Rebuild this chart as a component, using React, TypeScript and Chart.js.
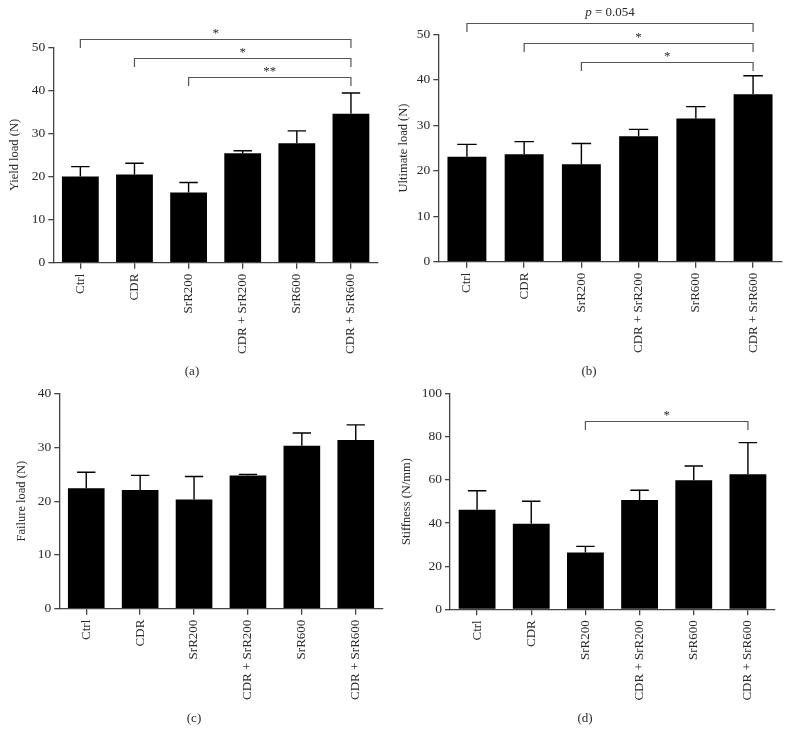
import React, { useEffect, useRef } from "react";
import { Chart, registerables } from "chart.js";

Chart.register(...registerables);

// ---------- data ----------
const categories = ["Ctrl", "CDR", "SrR200", "CDR + SrR200", "SrR600", "CDR + SrR600"];

const yieldLoadMeans = [20.0, 20.5, 16.3, 25.4, 27.7, 34.6];
const yieldLoadErrors = [2.3, 2.6, 2.3, 0.6, 2.9, 4.8];

const ultimateLoadMeans = [23.1, 23.6, 21.4, 27.6, 31.5, 36.8];
const ultimateLoadErrors = [2.7, 2.8, 4.6, 1.5, 2.6, 4.1];

const failureLoadMeans = [22.4, 22.1, 20.3, 24.8, 30.3, 31.4];
const failureLoadErrors = [3.0, 2.7, 4.3, 0.2, 2.4, 2.8];

const stiffnessMeans = [46.2, 39.7, 26.3, 50.7, 59.8, 62.6];
const stiffnessErrors = [8.8, 10.4, 2.9, 4.5, 6.7, 14.7];

const yieldLoadBrackets = [
  { from: 0, to: 5, level: 52.0, label: "*" },
  { from: 1, to: 5, level: 47.5, label: "*" },
  { from: 2, to: 5, level: 43.2, label: "**" },
];
const ultimateLoadBrackets = [
  { from: 0, to: 5, level: 52.5, label: "p = 0.054" },
  { from: 1, to: 5, level: 48.1, label: "*" },
  { from: 2, to: 5, level: 43.8, label: "*" },
];
const failureLoadBrackets: { from: number; to: number; level: number; label: string }[] = [];
const stiffnessBrackets = [{ from: 2, to: 5, level: 87.5, label: "*" }];

// ---------- styling ----------
const FONT = "'Liberation Serif', 'DejaVu Serif', serif";
const TEXT = "#2a2a2a";
const AXIS = "#444444";

const errorBarPlugin = {
  id: "errorBars",
  afterDatasetsDraw(chart: any, _args: any, opts: any) {
    const errs: number[] = opts.errors || [];
    const meta = chart.getDatasetMeta(0);
    const ys = chart.scales.y;
    const ctx = chart.ctx;
    ctx.save();
    ctx.strokeStyle = "#000";
    ctx.lineWidth = 1.4;
    meta.data.forEach((bar: any, i: number) => {
      const v = chart.data.datasets[0].data[i] as number;
      const top = ys.getPixelForValue(v + errs[i]);
      const half = bar.width / 4;
      ctx.beginPath();
      ctx.moveTo(bar.x, bar.y);
      ctx.lineTo(bar.x, top);
      ctx.moveTo(bar.x - half, top);
      ctx.lineTo(bar.x + half, top);
      ctx.stroke();
    });
    ctx.restore();
  },
};

const bracketPlugin = {
  id: "brackets",
  afterDraw(chart: any, _args: any, opts: any) {
    const list = opts.items || [];
    const xs = chart.scales.x;
    const ys = chart.scales.y;
    const ctx = chart.ctx;
    const drop = 8.5;
    ctx.save();
    list.forEach((b: any) => {
      const x1 = xs.getPixelForValue(b.from);
      const x2 = xs.getPixelForValue(b.to);
      const y = Math.round(ys.getPixelForValue(b.level)) + 0.5;
      ctx.strokeStyle = "#555";
      ctx.lineWidth = 1.2;
      ctx.beginPath();
      ctx.moveTo(x1, y + drop);
      ctx.lineTo(x1, y);
      ctx.lineTo(x2, y);
      ctx.lineTo(x2, y + drop);
      ctx.stroke();
      const cx = (x1 + x2) / 2;
      ctx.fillStyle = TEXT;
      ctx.textBaseline = "alphabetic";
      if (b.label.startsWith("p")) {
        const rest = b.label.slice(1);
        ctx.font = `italic 13px ${FONT}`;
        const w1 = ctx.measureText("p").width;
        ctx.font = `13px ${FONT}`;
        const w2 = ctx.measureText(rest).width;
        const start = cx - (w1 + w2) / 2;
        ctx.textAlign = "left";
        ctx.font = `italic 13px ${FONT}`;
        ctx.fillText("p", start, y - 7.5);
        ctx.font = `13px ${FONT}`;
        ctx.fillText(rest, start + w1, y - 7.5);
      } else {
        ctx.font = `13px ${FONT}`;
        ctx.textAlign = "center";
        ctx.fillText(b.label, cx, y - 3);
      }
    });
    ctx.restore();
  },
};

type PanelProps = {
  means: number[];
  errors: number[];
  brackets: { from: number; to: number; level: number; label: string }[];
  yTitle: string;
  yMax: number;
  yStep: number;
  left: number;
  top: number;
  padLeft: number;
  yWidth: number;
  areaRight: number;
  areaTop: number;
  areaBottom: number;
  caption: string;
  capX: number;
  capY: number;
};

const W = 395;
const H = 372;

function Panel(p: PanelProps) {
  const ref = useRef<HTMLCanvasElement | null>(null);
  useEffect(() => {
    if (!ref.current) return;
    const xHeight = 100;
    const chart = new Chart(ref.current, {
      type: "bar",
      data: {
        labels: categories,
        datasets: [
          {
            data: p.means,
            backgroundColor: "#000",
            borderWidth: 0,
            barPercentage: 0.68,
            categoryPercentage: 1,
          },
        ],
      },
      plugins: [errorBarPlugin, bracketPlugin],
      options: {
        responsive: false,
        animation: false,
        layout: {
          padding: {
            left: p.padLeft,
            right: W - p.areaRight,
            top: p.areaTop,
            bottom: H - p.areaBottom - xHeight,
          },
        },
        plugins: {
          legend: { display: false },
          tooltip: { enabled: false },
          errorBars: { errors: p.errors },
          brackets: { items: p.brackets },
        } as any,
        scales: {
          x: {
            afterFit: (s: any) => {
              s.height = xHeight;
            },
            grid: {
              offset: false,
              drawOnChartArea: false,
              drawTicks: true,
              tickLength: 6,
              color: AXIS,
              lineWidth: 1.3,
            },
            border: { display: true, color: AXIS, width: 1.3 },
            ticks: {
              autoSkip: false,
              minRotation: 90,
              maxRotation: 90,
              padding: 5,
              color: TEXT,
              font: { family: FONT, size: 13 },
            },
          },
          y: {
            min: 0,
            max: p.yMax,
            afterFit: (s: any) => {
              s.width = p.yWidth;
            },
            grid: {
              drawOnChartArea: false,
              drawTicks: true,
              tickLength: 5,
              color: AXIS,
              lineWidth: 1.3,
            },
            border: { display: true, color: AXIS, width: 1.3 },
            ticks: {
              stepSize: p.yStep,
              padding: 3,
              color: TEXT,
              font: { family: FONT, size: 13.5 },
            },
            title: {
              display: true,
              text: p.yTitle,
              color: TEXT,
              padding: 0,
              font: { family: FONT, size: 12.5 },
            },
          },
        },
      } as any,
    });
    return () => chart.destroy();
  }, []);
  return (
    <>
      <canvas
        ref={ref}
        width={W}
        height={H}
        style={{ position: "absolute", left: p.left, top: p.top, width: W, height: H }}
      />
      <div
        style={{
          position: "absolute",
          left: p.capX,
          top: p.capY,
          transform: "translate(-50%, -50%)",
          fontFamily: FONT,
          fontSize: 13,
          color: TEXT,
          lineHeight: 1,
          whiteSpace: "nowrap",
        }}
      >
        {p.caption}
      </div>
    </>
  );
}

export default function App() {
  return (
    <div
      style={{
        position: "absolute",
        left: 0,
        top: 0,
        width: 790,
        height: 744,
        background: "#fff",
        overflow: "hidden",
      }}
    >
      <Panel
        means={yieldLoadMeans}
        errors={yieldLoadErrors}
        brackets={yieldLoadBrackets}
        yTitle="Yield load (N)"
        yMax={50}
        yStep={10}
        left={0}
        top={0}
        padLeft={7.5}
        yWidth={45.8}
        areaRight={378}
        areaTop={47.3}
        areaBottom={262.7}
        caption="(a)"
        capX={192}
        capY={370}
      />
      <Panel
        means={ultimateLoadMeans}
        errors={ultimateLoadErrors}
        brackets={ultimateLoadBrackets}
        yTitle="Ultimate load (N)"
        yMax={50}
        yStep={10}
        left={395}
        top={0}
        padLeft={1}
        yWidth={42.3}
        areaRight={386.7}
        areaTop={34.3}
        areaBottom={261.7}
        caption="(b)"
        capX={589}
        capY={370}
      />
      <Panel
        means={failureLoadMeans}
        errors={failureLoadErrors}
        brackets={failureLoadBrackets}
        yTitle="Failure load (N)"
        yMax={40}
        yStep={10}
        left={0}
        top={372}
        padLeft={14.2}
        yWidth={45.1}
        areaRight={382.7}
        areaTop={21.7}
        areaBottom={236.7}
        caption="(c)"
        capX={194}
        capY={717}
      />
      <Panel
        means={stiffnessMeans}
        errors={stiffnessErrors}
        brackets={stiffnessBrackets}
        yTitle="Stiffness (N/mm)"
        yMax={100}
        yStep={20}
        left={395}
        top={372}
        padLeft={4.2}
        yWidth={50.8}
        areaRight={380}
        areaTop={21.7}
        areaBottom={237.3}
        caption="(d)"
        capX={585}
        capY={717}
      />
    </div>
  );
}
